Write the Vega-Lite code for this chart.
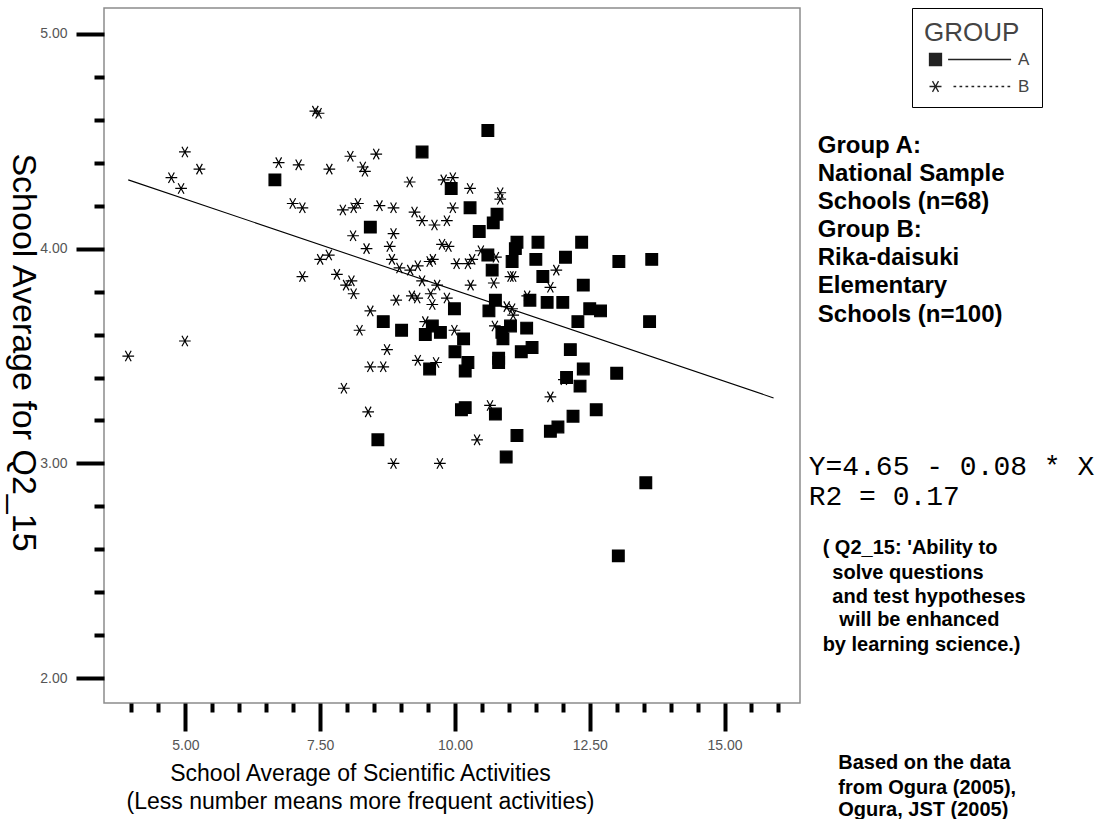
{
  "$schema": "https://vega.github.io/schema/vega-lite/v6.json",
  "width": 696,
  "height": 695,
  "autosize": {"type": "none"},
  "padding": {"left": 104, "top": 8, "right": 310, "bottom": 116},
  "background": "white",
  "config": {
    "view": {"stroke": "#8c8c8c", "strokeWidth": 1.5},
    "axis": {"grid": false, "domain": false},
    "font": "Liberation Sans"
  },
  "resolve": {"axis": {"x": "independent", "y": "independent"}, "scale": {"shape": "independent"}},
  "layer": [
    {
      "data": {"values": [
        {"x":6.66,"y":4.32,"g":"A"},{"x":10.61,"y":4.55,"g":"A"},{"x":9.39,"y":4.45,"g":"A"},{"x":9.93,"y":4.28,"g":"A"},{"x":10.28,"y":4.19,"g":"A"},{"x":10.78,"y":4.16,"g":"A"},{"x":10.71,"y":4.12,"g":"A"},{"x":8.43,"y":4.10,"g":"A"},{"x":10.45,"y":4.08,"g":"A"},{"x":11.15,"y":4.03,"g":"A"},{"x":11.12,"y":4.00,"g":"A"},{"x":11.54,"y":4.03,"g":"A"},{"x":12.35,"y":4.03,"g":"A"},{"x":10.61,"y":3.97,"g":"A"},{"x":11.06,"y":3.94,"g":"A"},{"x":11.50,"y":3.95,"g":"A"},{"x":12.05,"y":3.96,"g":"A"},{"x":10.69,"y":3.90,"g":"A"},{"x":11.63,"y":3.87,"g":"A"},{"x":12.38,"y":3.83,"g":"A"},{"x":10.75,"y":3.76,"g":"A"},{"x":11.39,"y":3.76,"g":"A"},{"x":11.71,"y":3.75,"g":"A"},{"x":12.00,"y":3.75,"g":"A"},{"x":10.63,"y":3.71,"g":"A"},{"x":9.99,"y":3.72,"g":"A"},{"x":12.28,"y":3.66,"g":"A"},{"x":11.03,"y":3.64,"g":"A"},{"x":11.33,"y":3.63,"g":"A"},{"x":8.67,"y":3.66,"g":"A"},{"x":9.01,"y":3.62,"g":"A"},{"x":9.58,"y":3.64,"g":"A"},{"x":9.45,"y":3.60,"g":"A"},{"x":9.73,"y":3.61,"g":"A"},{"x":10.16,"y":3.58,"g":"A"},{"x":10.87,"y":3.61,"g":"A"},{"x":10.89,"y":3.58,"g":"A"},{"x":11.43,"y":3.54,"g":"A"},{"x":12.14,"y":3.53,"g":"A"},{"x":11.23,"y":3.52,"g":"A"},{"x":10.00,"y":3.52,"g":"A"},{"x":10.24,"y":3.47,"g":"A"},{"x":10.19,"y":3.43,"g":"A"},{"x":9.53,"y":3.44,"g":"A"},{"x":10.81,"y":3.49,"g":"A"},{"x":10.81,"y":3.47,"g":"A"},{"x":12.07,"y":3.40,"g":"A"},{"x":10.19,"y":3.26,"g":"A"},{"x":10.12,"y":3.25,"g":"A"},{"x":10.75,"y":3.23,"g":"A"},{"x":12.19,"y":3.22,"g":"A"},{"x":11.77,"y":3.15,"g":"A"},{"x":11.91,"y":3.17,"g":"A"},{"x":11.15,"y":3.13,"g":"A"},{"x":8.57,"y":3.11,"g":"A"},{"x":10.95,"y":3.03,"g":"A"},{"x":13.04,"y":3.94,"g":"A"},{"x":13.65,"y":3.95,"g":"A"},{"x":12.50,"y":3.72,"g":"A"},{"x":12.70,"y":3.71,"g":"A"},{"x":13.61,"y":3.66,"g":"A"},{"x":12.38,"y":3.44,"g":"A"},{"x":13.00,"y":3.42,"g":"A"},{"x":12.32,"y":3.36,"g":"A"},{"x":12.62,"y":3.25,"g":"A"},{"x":13.54,"y":2.91,"g":"A"},{"x":13.03,"y":2.57,"g":"A"},
        {"x":3.94,"y":3.50,"g":"B"},{"x":4.99,"y":3.57,"g":"B"},{"x":4.99,"y":4.45,"g":"B"},{"x":4.74,"y":4.33,"g":"B"},{"x":5.26,"y":4.37,"g":"B"},{"x":4.92,"y":4.28,"g":"B"},{"x":6.73,"y":4.40,"g":"B"},{"x":7.10,"y":4.39,"g":"B"},{"x":7.67,"y":4.37,"g":"B"},{"x":7.41,"y":4.64,"g":"B"},{"x":7.47,"y":4.63,"g":"B"},{"x":8.06,"y":4.43,"g":"B"},{"x":6.99,"y":4.21,"g":"B"},{"x":7.17,"y":4.19,"g":"B"},{"x":7.92,"y":4.18,"g":"B"},{"x":7.50,"y":3.95,"g":"B"},{"x":7.66,"y":3.97,"g":"B"},{"x":7.17,"y":3.87,"g":"B"},{"x":7.81,"y":3.88,"g":"B"},{"x":7.98,"y":3.83,"g":"B"},{"x":8.08,"y":3.85,"g":"B"},{"x":8.12,"y":3.79,"g":"B"},{"x":7.94,"y":3.35,"g":"B"},{"x":8.54,"y":4.44,"g":"B"},{"x":8.29,"y":4.38,"g":"B"},{"x":8.33,"y":4.36,"g":"B"},{"x":9.16,"y":4.31,"g":"B"},{"x":9.79,"y":4.32,"g":"B"},{"x":9.96,"y":4.33,"g":"B"},{"x":10.28,"y":4.28,"g":"B"},{"x":10.84,"y":4.26,"g":"B"},{"x":10.84,"y":4.23,"g":"B"},{"x":8.12,"y":4.19,"g":"B"},{"x":8.20,"y":4.21,"g":"B"},{"x":8.60,"y":4.20,"g":"B"},{"x":8.86,"y":4.19,"g":"B"},{"x":9.25,"y":4.17,"g":"B"},{"x":9.39,"y":4.13,"g":"B"},{"x":9.62,"y":4.11,"g":"B"},{"x":9.85,"y":4.13,"g":"B"},{"x":9.96,"y":4.19,"g":"B"},{"x":8.11,"y":4.06,"g":"B"},{"x":8.86,"y":4.07,"g":"B"},{"x":8.79,"y":4.01,"g":"B"},{"x":8.36,"y":4.00,"g":"B"},{"x":9.76,"y":4.02,"g":"B"},{"x":9.88,"y":4.01,"g":"B"},{"x":10.48,"y":3.99,"g":"B"},{"x":8.83,"y":3.95,"g":"B"},{"x":8.97,"y":3.91,"g":"B"},{"x":9.17,"y":3.90,"g":"B"},{"x":9.31,"y":3.92,"g":"B"},{"x":9.53,"y":3.94,"g":"B"},{"x":9.59,"y":3.95,"g":"B"},{"x":10.03,"y":3.93,"g":"B"},{"x":10.24,"y":3.93,"g":"B"},{"x":10.32,"y":3.95,"g":"B"},{"x":10.76,"y":3.96,"g":"B"},{"x":11.03,"y":3.87,"g":"B"},{"x":11.08,"y":3.87,"g":"B"},{"x":11.88,"y":3.90,"g":"B"},{"x":10.72,"y":3.84,"g":"B"},{"x":10.29,"y":3.83,"g":"B"},{"x":9.39,"y":3.85,"g":"B"},{"x":9.67,"y":3.83,"g":"B"},{"x":11.77,"y":3.82,"g":"B"},{"x":8.91,"y":3.76,"g":"B"},{"x":9.20,"y":3.78,"g":"B"},{"x":9.30,"y":3.77,"g":"B"},{"x":9.55,"y":3.79,"g":"B"},{"x":9.58,"y":3.74,"g":"B"},{"x":9.85,"y":3.77,"g":"B"},{"x":10.96,"y":3.73,"g":"B"},{"x":11.06,"y":3.72,"g":"B"},{"x":11.08,"y":3.69,"g":"B"},{"x":11.34,"y":3.78,"g":"B"},{"x":8.43,"y":3.71,"g":"B"},{"x":8.23,"y":3.62,"g":"B"},{"x":9.45,"y":3.66,"g":"B"},{"x":9.99,"y":3.62,"g":"B"},{"x":10.74,"y":3.64,"g":"B"},{"x":8.74,"y":3.53,"g":"B"},{"x":8.43,"y":3.45,"g":"B"},{"x":8.67,"y":3.45,"g":"B"},{"x":9.31,"y":3.48,"g":"B"},{"x":9.65,"y":3.47,"g":"B"},{"x":8.39,"y":3.24,"g":"B"},{"x":10.65,"y":3.27,"g":"B"},{"x":10.41,"y":3.11,"g":"B"},{"x":11.77,"y":3.31,"g":"B"},{"x":12.02,"y":3.39,"g":"B"},{"x":8.86,"y":3.00,"g":"B"},{"x":9.72,"y":3.00,"g":"B"}
      ]},
      "mark": {"type": "point", "filled": true, "fill": "black", "stroke": "black", "strokeWidth": 1.2, "opacity": 1, "size": 137},
      "encoding": {
        "x": {"field": "x", "type": "quantitative",
          "scale": {"domain": [3.49, 16.4], "nice": false, "zero": false},
          "axis": {"orient": "bottom", "values": [5, 7.5, 10, 12.5, 15], "format": ".2f", "tickSize": 28, "tickWidth": 4, "tickColor": "black",
            "labelFont": "Liberation Sans", "labelFontSize": 14, "labelColor": "#555", "labelPadding": 7, "labelFlush": false, "labelOverlap": false,
            "title": ["School Average of Scientific Activities", "(Less number means more frequent activities)"],
            "titleFont": "Liberation Sans", "titleFontSize": 23, "titleFontWeight": "normal", "titleColor": "black",
            "titleX": 256, "titleY": 77, "titleAlign": "center", "titleBaseline": "alphabetic", "titleLineHeight": 28}},
        "y": {"field": "y", "type": "quantitative",
          "scale": {"domain": [1.885, 5.12], "nice": false, "zero": false},
          "axis": {"orient": "left", "values": [2, 3, 4, 5], "format": ".2f", "tickSize": 28, "tickWidth": 4, "tickColor": "black",
            "labelFont": "Liberation Sans", "labelFontSize": 14, "labelColor": "#555", "labelPadding": 9, "labelFlush": false, "labelOverlap": false,
            "title": "School Average for Q2_15",
            "titleFont": "Liberation Sans", "titleFontSize": 34, "titleFontWeight": "normal", "titleColor": "black",
            "titleAngle": 90, "titleX": -82, "titleY": 344, "titleAlign": "center", "titleBaseline": "middle"}},
        "shape": {"field": "g", "type": "nominal",
          "scale": {"domain": ["A", "B"], "range": ["square", "M-1,0H1M-0.5,-0.9L0.5,0.9M-0.5,0.9L0.5,-0.9"]},
          "legend": null}
      }
    },
    {
      "data": {"values": [{"x": 3.94, "y": 4.32}, {"x": 15.91, "y": 3.305}]},
      "mark": {"type": "line", "color": "black", "strokeWidth": 1.1},
      "encoding": {
        "x": {"field": "x", "type": "quantitative",
          "scale": {"domain": [3.49, 16.4], "nice": false, "zero": false},
          "axis": {"orient": "bottom", "values": [4, 4.5, 5.5, 6, 6.5, 7, 8, 8.5, 9, 9.5, 10.5, 11, 11.5, 12, 13, 13.5, 14, 14.5, 15.5, 16],
            "tickSize": 9, "tickWidth": 4, "tickColor": "black", "labels": false, "title": null}},
        "y": {"field": "y", "type": "quantitative",
          "scale": {"domain": [1.885, 5.12], "nice": false, "zero": false},
          "axis": {"orient": "left", "values": [2.2, 2.4, 2.6, 2.8, 3.2, 3.4, 3.6, 3.8, 4.2, 4.4, 4.6, 4.8],
            "tickSize": 10, "tickWidth": 4, "tickColor": "black", "labels": false, "title": null}}
      }
    },
    {
      "data": {"values": [{"lg": "A"}, {"lg": "B"}]},
      "mark": {"type": "point", "filled": false, "opacity": 0, "color": "#222", "strokeWidth": 1.3},
      "encoding": {
        "shape": {"field": "lg", "type": "nominal",
          "scale": {"domain": ["A", "B"], "range": [
            "M-1,-1H1V1H-1ZM-1,-0.8H1M-1,-0.6H1M-1,-0.4H1M-1,-0.2H1M-1,0H1M-1,0.2H1M-1,0.4H1M-1,0.6H1M-1,0.8H1M2.1,0H12.6",
            "M-1,0H1M-0.5,-0.9L0.5,0.9M-0.5,0.9L0.5,-0.9M3,0H3.45M4,0H4.45M5,0H5.45M6,0H6.45M7,0H7.45M8,0H8.45M9,0H9.45M10,0H10.45M11,0H11.45M12,0H12.45"
          ]},
          "legend": {"title": "GROUP", "orient": "none", "legendX": 808, "legendY": 0,
            "strokeColor": "black", "padding": 12, "symbolOffset": 3,
            "titleFont": "Liberation Sans", "titleFontSize": 26, "titleFontWeight": "normal", "titleColor": "#444", "titlePadding": 5,
            "labelFont": "Liberation Sans", "labelFontSize": 17, "labelColor": "#444", "labelOffset": 74,
            "rowPadding": 8, "symbolSize": 144,
            "symbolStrokeColor": "#222", "symbolStrokeWidth": 1.3, "symbolOpacity": 1}
        }
      }
    },
    {
      "data": {"values": [
        {"tx": 16.73, "ty": 4.477, "t": "Group A:"},
        {"tx": 16.73, "ty": 4.347, "t": "National Sample"},
        {"tx": 16.73, "ty": 4.217, "t": "Schools (n=68)"},
        {"tx": 16.73, "ty": 4.086, "t": "Group B:"},
        {"tx": 16.73, "ty": 3.956, "t": "Rika-daisuki"},
        {"tx": 16.73, "ty": 3.826, "t": "Elementary"},
        {"tx": 16.73, "ty": 3.691, "t": "Schools (n=100)"}
      ]},
      "mark": {"type": "text", "align": "left", "baseline": "middle", "font": "Liberation Sans", "fontSize": 24, "fontWeight": "bold", "color": "black"},
      "encoding": {
        "x": {"field": "tx", "type": "quantitative", "scale": {"domain": [3.49, 16.4], "nice": false, "zero": false}, "axis": null},
        "y": {"field": "ty", "type": "quantitative", "scale": {"domain": [1.885, 5.12], "nice": false, "zero": false}, "axis": null},
        "text": {"field": "t"}
      }
    },
    {
      "data": {"values": [
        {"tx": 16.56, "ty": 2.984, "t": "Y=4.65 - 0.08 * X"},
        {"tx": 16.56, "ty": 2.844, "t": "R2 = 0.17"}
      ]},
      "mark": {"type": "text", "align": "left", "baseline": "middle", "font": "Liberation Mono", "fontSize": 28, "color": "black"},
      "encoding": {
        "x": {"field": "tx", "type": "quantitative", "scale": {"domain": [3.49, 16.4], "nice": false, "zero": false}, "axis": null},
        "y": {"field": "ty", "type": "quantitative", "scale": {"domain": [1.885, 5.12], "nice": false, "zero": false}, "axis": null},
        "text": {"field": "t"}
      }
    },
    {
      "data": {"values": [
        {"tx": 16.82, "ty": 2.607, "t": "( Q2_15: 'Ability to"},
        {"tx": 17.0, "ty": 2.490, "t": "solve questions"},
        {"tx": 17.0, "ty": 2.379, "t": "and test hypotheses"},
        {"tx": 17.13, "ty": 2.272, "t": "will be enhanced"},
        {"tx": 16.82, "ty": 2.156, "t": "by learning science.)"},
        {"tx": 17.11, "ty": 1.606, "t": "Based on the data"},
        {"tx": 17.11, "ty": 1.490, "t": "from Ogura (2005),"},
        {"tx": 17.11, "ty": 1.385, "t": "Ogura, JST (2005)"}
      ]},
      "mark": {"type": "text", "align": "left", "baseline": "middle", "font": "Liberation Sans", "fontSize": 20, "fontWeight": "bold", "color": "black"},
      "encoding": {
        "x": {"field": "tx", "type": "quantitative", "scale": {"domain": [3.49, 16.4], "nice": false, "zero": false}, "axis": null},
        "y": {"field": "ty", "type": "quantitative", "scale": {"domain": [1.885, 5.12], "nice": false, "zero": false}, "axis": null},
        "text": {"field": "t"}
      }
    }
  ]
}
